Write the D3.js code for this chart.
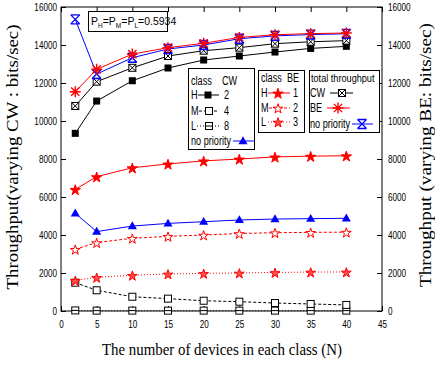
<!DOCTYPE html>
<html>
<head>
<meta charset="utf-8">
<script src="https://cdn.jsdelivr.net/npm/d3@7"></script>
<style>
  body { margin: 0; background: #fff; }
  svg { display: block; }
</style>
</head>
<body>
<div id="chart"></div>
<script>
const devices = [2, 5, 10, 15, 20, 25, 30, 35, 40];

const cwHigh = [9350, 11050, 12120, 12790, 13210, 13420, 13630, 13820, 13930];
const cwMid = [1490, 1090, 750, 650, 540, 490, 420, 370, 320];
const cwLow = [30, 20, 20, 20, 20, 20, 20, 20, 20];
const cwTotal = [10790, 12070, 12800, 13420, 13700, 13860, 14070, 14170, 14230];

const beHigh = [6400, 7070, 7540, 7740, 7900, 8000, 8110, 8150, 8170];
const beMid = [3250, 3600, 3830, 3930, 4000, 4080, 4120, 4140, 4150];
const beLow = [1610, 1770, 1880, 1950, 1980, 2000, 2030, 2050, 2055];
const beTotal = [11540, 12720, 13520, 13860, 14090, 14400, 14540, 14600, 14630];

const noPrioTotal = [15350, 12470, 13330, 13790, 14000, 14330, 14480, 14550, 14590];
const noPrioCW = [5140, 4180, 4470, 4610, 4700, 4790, 4840, 4860, 4880];

const xTicks = [0, 5, 10, 15, 20, 25, 30, 35, 40, 45];
const yTicks = [0, 2000, 4000, 6000, 8000, 10000, 12000, 14000, 16000];

(() => {
const width = 435;
const height = 365;
const plotL = 61, plotR = 382, plotT = 7, plotB = 311;

const RED = "#ff0000", BLUE = "#0000ff", BLACK = "#000000";
const DASH = "3,2", DOT = "1,2";

const series = [
  { values: cwLow, color: BLACK, dash: DOT, marker: "squareBar" },
  { values: cwMid, color: BLACK, dash: DASH, marker: "squareOpen" },
  { values: beLow, color: RED, dash: DOT, marker: "starLight" },
  { values: beMid, color: RED, dash: DASH, marker: "starOpen" },
  { values: noPrioCW, color: BLUE, dash: null, marker: "triangle" },
  { values: beHigh, color: RED, dash: null, marker: "star" },
  { values: cwHigh, color: BLACK, dash: null, marker: "square" },
  { values: cwTotal, color: BLACK, dash: null, marker: "squareCross" },
  { values: noPrioTotal, color: BLUE, dash: null, marker: "xBar" },
  { values: beTotal, color: RED, dash: null, marker: "asterisk" }
];

const sans = "'Liberation Sans', Arial, sans-serif";
const serif = "'Liberation Serif', 'DejaVu Serif', serif";

const svg = d3.select("#chart").append("svg")
  .attr("width", width)
  .attr("height", height);

const x = d3.scaleLinear().domain([0, 45]).range([plotL, plotR]);
const y = d3.scaleLinear().domain([0, 16000]).range([plotB, plotT]);

// squeeze the sans text horizontally, like the narrow font of the original
function condense(sel, f) {
  sel.each(function() {
    const len = this.getComputedTextLength();
    if (len > 0) {
      d3.select(this).attr("textLength", len * f).attr("lengthAdjust", "spacingAndGlyphs");
    }
  });
}

// marker drawing
function marker(g, type, color) {
  const s = 3.5;
  if (type === "square") {
    g.append("rect").attr("x", -s).attr("y", -s).attr("width", 2 * s).attr("height", 2 * s)
      .attr("fill", color);
  } else if (type === "squareOpen" || type === "squareBar" || type === "squareCross") {
    g.append("rect").attr("x", -s).attr("y", -s).attr("width", 2 * s).attr("height", 2 * s)
      .attr("fill", "#fff").attr("stroke", color).attr("stroke-width", 1);
    if (type === "squareBar") {
      g.append("path").attr("d", `M${-s},0H${s}`).attr("stroke", color);
    }
    if (type === "squareCross") {
      g.append("path").attr("d", `M${-s},${-s}L${s},${s}M${-s},${s}L${s},${-s}`)
        .attr("stroke", color);
    }
  } else if (type === "triangle") {
    g.append("path").attr("d", d3.symbol(d3.symbolTriangle, 36)())
      .attr("transform", "translate(0,0.5)")
      .attr("fill", color);
  } else if (type === "star" || type === "starOpen" || type === "starLight") {
    g.append("path").attr("d", d3.symbol(d3.symbolStar, type === "star" ? 34 : 30)())
      .attr("transform", "translate(0,0.8)")
      .attr("fill", type === "starOpen" ? "#fff" : (type === "starLight" ? "#ff5050" : color))
      .attr("stroke", color).attr("stroke-width", 1);
  } else if (type === "asterisk") {
    const r = 5.5;
    g.append("path")
      .attr("d", `M${-r * 0.75},${-r * 0.75}L${r * 0.75},${r * 0.75}M${-r * 0.75},${r * 0.75}L${r * 0.75},${-r * 0.75}M0,${-r}V${r}M${-r},0H${r}`)
      .attr("stroke", color).attr("stroke-width", 1.4);
  } else if (type === "xBar") {
    const r = 4.5;
    g.append("path")
      .attr("d", `M${-r},${-r}L${r},${r}M${-r},${r}L${r},${-r}M${-r},${-r}H${r}M${-r},${r}H${r}`)
      .attr("stroke", color).attr("stroke-width", 1.3).attr("fill", "none");
  }
}

// frame
svg.append("rect")
  .attr("x", plotL).attr("y", plotT)
  .attr("width", plotR - plotL).attr("height", plotB - plotT)
  .attr("fill", "none").attr("stroke", BLACK).attr("stroke-width", 1);

function styleAxis(g) {
  g.select(".domain").remove();
  g.selectAll("line").attr("stroke", BLACK);
  g.selectAll("text").style("font-family", sans).style("font-size", "11px").attr("fill", BLACK)
    .call(condense, 0.74);
}

svg.append("g").attr("transform", `translate(${plotL},0)`)
  .call(d3.axisLeft(y).tickValues(yTicks).tickSize(-5).tickPadding(4).tickFormat(d3.format("d")))
  .call(styleAxis);

svg.append("g").attr("transform", `translate(${plotR},0)`)
  .call(d3.axisRight(y).tickValues(yTicks).tickSize(-5).tickPadding(6).tickFormat(d3.format("d")))
  .call(styleAxis);

svg.append("g").attr("transform", `translate(0,${plotB})`)
  .call(d3.axisBottom(x).tickValues(xTicks).tickSize(-5).tickPadding(9))
  .call(styleAxis);

svg.append("g").attr("transform", `translate(0,${plotT})`)
  .call(d3.axisTop(x).tickValues(xTicks).tickSize(-5).tickFormat(""))
  .call(styleAxis);

// lines
const line = d3.line().x((d, i) => x(devices[i])).y(d => y(d));

series.forEach(s => {
  svg.append("path")
    .datum(s.values)
    .attr("d", line)
    .attr("fill", "none")
    .attr("stroke", s.color)
    .attr("stroke-width", 1)
    .attr("stroke-dasharray", s.dash);
  s.values.forEach((v, i) => {
    const g = svg.append("g").attr("transform", `translate(${x(devices[i])},${y(v)})`);
    marker(g, s.marker, s.color);
  });
});

// annotation: P_H=P_M=P_L=0.5934 as one text with subscript tspans
const ann = svg.append("g");
ann.append("rect").attr("x", 88.5).attr("y", 11.5).attr("width", 79).attr("height", 20)
  .attr("fill", "#fff").attr("stroke", BLACK);
const annText = ann.append("text").attr("x", 91).attr("y", 25)
  .style("font-family", sans).style("font-size", "10.5px");
[["P", false], ["H", true], ["=P", false], ["M", true], ["=P", false], ["L", true], ["=0.5934", false]]
  .forEach(([t, sub]) => {
    const ts = annText.append("tspan").text(t);
    if (sub) ts.attr("dy", 3).style("font-size", "6.5px");
    else if (t !== "P") ts.attr("dy", -3);
  });

// legends
function legendBox(x0, y0, w, h) {
  svg.append("rect").attr("x", x0).attr("y", y0).attr("width", w).attr("height", h)
    .attr("fill", "#fff").attr("stroke", BLACK);
}
function legendText(tx, ty, t, size = 12, f = 0.76) {
  svg.append("text").attr("x", tx).attr("y", ty).text(t)
    .style("font-family", sans).style("font-size", size + "px")
    .call(condense, f);
}
function legendSample(x1, x2, ym, mx, color, dash, type) {
  svg.append("line").attr("x1", x1).attr("x2", x2).attr("y1", ym).attr("y2", ym)
    .attr("stroke", color).attr("stroke-dasharray", dash);
  marker(svg.append("g").attr("transform", `translate(${mx},${ym})`), type, color);
}

legendBox(188.5, 68.5, 66, 81);
legendText(191, 85, "class");
legendText(222, 85, "CW");
legendText(191, 99, "H");
legendSample(198, 219, 95, 208, BLACK, null, "square");
legendText(224, 99, "2");
legendText(191, 115, "M");
legendSample(199, 219, 111, 209, BLACK, DASH, "squareOpen");
legendText(224, 115, "4");
legendText(191, 130, "L");
legendSample(197, 219, 126, 209, BLACK, DOT, "squareBar");
legendText(224, 130, "8");
legendText(191, 145, "no priority");
legendSample(233, 254, 141, 243, BLUE, null, "triangle");

legendBox(258.5, 70.5, 46, 62);
legendText(261, 82, "class");
legendText(287, 82, "BE");
legendText(261, 97, "H");
legendSample(268, 290, 93, 278, RED, null, "star");
legendText(293, 97, "1");
legendText(261, 112, "M");
legendSample(269, 290, 108, 278, RED, DASH, "starOpen");
legendText(293, 112, "2");
legendText(261, 126, "L");
legendSample(268, 290, 122, 278, RED, DOT, "starLight");
legendText(293, 126, "3");

legendBox(309.5, 70.5, 70, 62);
legendText(311, 82, "total throughput", 10.5, 0.87);
legendText(310, 97, "CW");
legendSample(330, 353, 93, 342, BLACK, null, "squareCross");
legendText(310, 112, "BE");
legendSample(327, 350, 108, 338, RED, null, "asterisk");
legendText(310, 128, "no priority");
legendSample(352, 373, 124, 362, BLUE, null, "xBar");

// axis titles
svg.append("text")
  .attr("transform", "translate(18,157) rotate(-90)")
  .attr("text-anchor", "middle")
  .attr("textLength", 265).attr("lengthAdjust", "spacingAndGlyphs")
  .style("font-family", serif).style("font-size", "17px")
  .text("Throughput(varying CW : bits/sec)");

svg.append("text")
  .attr("transform", "translate(431,155) rotate(-90)")
  .attr("text-anchor", "middle")
  .attr("textLength", 264).attr("lengthAdjust", "spacingAndGlyphs")
  .style("font-family", serif).style("font-size", "17px")
  .text("Throughput (varying BE: bits/sec)");

svg.append("text")
  .attr("x", 222).attr("y", 355)
  .attr("text-anchor", "middle")
  .attr("textLength", 240).attr("lengthAdjust", "spacingAndGlyphs")
  .style("font-family", serif).style("font-size", "16px")
  .text("The number of devices in each class (N)");
})();
</script>
</body>
</html>
